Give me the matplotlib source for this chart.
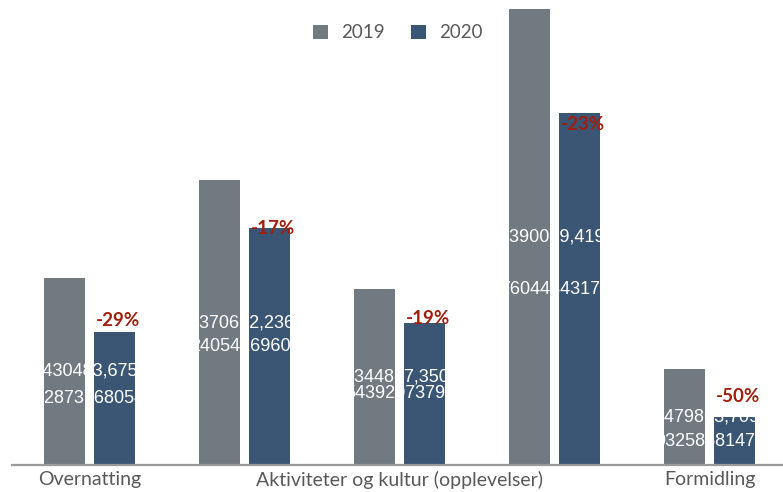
import matplotlib.pyplot as plt
import numpy as np

# --- DATA ---
categories = ["Overnatting", "Servering", "Aktiviteter og kultur (opplevelser)",
              "Transport", "Formidling"]
years = ["2019", "2020"]
values_2019 = [187, 285, 176, 456, 96]
values_2020 = [133, 237, 142, 352, 48]

# raw data labels as they appear in the source (mostly hidden, white on white)
text_2019 = ["1,2112430483,675", "5,3081370612,236", "2,9153344887,350",
             "8,0412390059,419", "6,1285479863,709"]
text_2020 = ["1287316805429317", "2405416960815274", "5439207379162548",
             "7604434317693205", "9325858147371096"]

# manual nudges of the change labels (pixels), as in the original
pct_dy = [11, -1, 5, -11, 21]

# --- STYLE ---
c2019 = "#717981"
c2020 = "#3B5675"
c_red = "#A01E0A"
c_txt = "#595959"
plt.rcParams["font.family"] = ["Lato", "DejaVu Sans"]
vfont = ["Liberation Sans", "DejaVu Sans"]

W, H = 783, 492
fig = plt.figure(figsize=(W / 100, H / 100), dpi=100)
ax = fig.add_axes([12 / W, 27 / H, 775 / W, 465 / H])

# size the value-label font so one digit is about 10 px wide
r = fig.canvas.get_renderer()
probe = fig.text(0, 0, "0123456789", fontsize=12, family=vfont)
vsize = 12 * 100 / probe.get_window_extent(r).width
probe.remove()

x = np.arange(len(categories))
bw = 0.2645
off = 0.1645
ax.bar(x - off, values_2019, bw, color=c2019, label=years[0])
ax.bar(x + off, values_2020, bw, color=c2020, label=years[1])

for i in range(len(categories)):
    ax.text(x[i] - off, values_2019[i] / 2, text_2019[i], ha="center", va="center",
            color="white", fontsize=vsize, family=vfont)
    ax.text(x[i] + off, values_2020[i] / 2, text_2020[i], ha="center", va="center",
            color="white", fontsize=vsize, family=vfont)
    pct = round((values_2020[i] / values_2019[i] - 1) * 100)
    ax.annotate(f"{pct}%", (x[i] + off, values_2020[i]),
                xytext=(3 * 0.72, pct_dy[i] * 0.72), textcoords="offset points",
                ha="center", va="center", color=c_red, fontsize=13.5,
                fontweight="bold")

# --- AXES FORMATTING ---
ax.set_xlim(-0.5, 4.5)
ax.set_ylim(0, 465)
for s in ["top", "right", "left"]:
    ax.spines[s].set_visible(False)
ax.spines["bottom"].set_color("#9a9a9a")
ax.spines["bottom"].set_linewidth(1.6)
ax.set_yticks([])
ax.set_xticks(x)
ax.set_xticklabels([c if i % 2 == 0 else "" for i, c in enumerate(categories)])
ax.tick_params(axis="x", length=0, pad=4, labelsize=14, labelcolor=c_txt)

fig.legend(loc="upper center", bbox_to_anchor=(0.508, 0.985), ncol=2,
           frameon=False, fontsize=13.5, labelcolor=c_txt,
           handlelength=0.8, handleheight=0.8, handletextpad=0.7,
           columnspacing=1.4)

fig.savefig("out.png", dpi=100)
